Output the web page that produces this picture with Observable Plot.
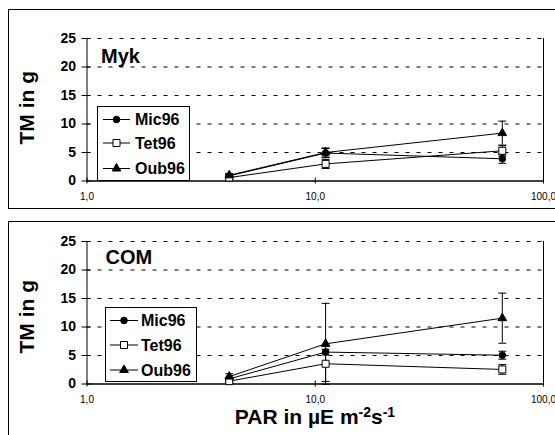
<!DOCTYPE html>
<html><head><meta charset="utf-8">
<script src="https://cdn.jsdelivr.net/npm/d3@7"></script>
<script src="https://cdn.jsdelivr.net/npm/@observablehq/plot@0.6"></script>
<style>
body{margin:0;background:#fff;font-family:"Liberation Sans",Arial,sans-serif;}
#wrap{position:relative;width:555px;height:435px;overflow:hidden;background:#fff;}
.frame{position:absolute;border:1px solid #000;box-sizing:border-box;}
.panel{position:absolute;left:0;}
.legend{position:absolute;}
.xtitle{position:absolute;left:115px;width:400px;text-align:center;font-weight:bold;font-size:21px;line-height:21px;color:#000;}
.xtitle sup{font-size:14px;line-height:0;vertical-align:7px;}
</style></head><body><div id="wrap"></div><script>
// ---- data ----
const par = [4.2, 11.1, 66];
const seriesNames = ["Mic96", "Tet96", "Oub96"];
const yTicks = [0, 5, 10, 15, 20, 25];
const gridValues = [5, 10, 15, 20, 25];
const xTicks = [1, 10, 100];
const panelNames = ["Myk", "COM"];
const yTitle = "TM in g";

const mykMic = [0.9, 4.9, 3.9];
const mykMicSd = [0.2, 0.8, 0.8];
const mykTet = [0.6, 3.0, 5.3];
const mykTetSd = [0.2, 0.8, 0.9];
const mykOub = [1.0, 5.0, 8.4];
const mykOubSd = [0.3, 0.8, 2.1];

const comMic = [0.9, 5.6, 5.05];
const comMicSd = [0.2, 0.5, 0.7];
const comTet = [0.5, 3.55, 2.55];
const comTetSd = [0.2, 3.1, 0.85];
const comOub = [1.3, 7.05, 11.55];
const comOubSd = [0.5, 7.1, 4.4];

function rows(vals, sds) {
  const out = [];
  seriesNames.forEach((s, i) => {
    par.forEach((x, j) => out.push({series: s, x, y: vals[i][j], lo: vals[i][j] - sds[i][j], hi: vals[i][j] + sds[i][j]}));
  });
  return out;
}
const mykData = rows([mykMic, mykTet, mykOub], [mykMicSd, mykTetSd, mykOubSd]);
const comData = rows([comMic, comTet, comOub], [comMicSd, comTetSd, comOubSd]);

const symStyle = {
  Mic96: {symbol: "circle", r: 3.3, fill: "black"},
  Tet96: {symbol: "square", r: 3.95, fill: "white"},
  Oub96: {symbol: "triangle", r: 3.2, fill: "black"}
};
const capSymbol = {draw(ctx, size) { const r = Math.sqrt(size / Math.PI); ctx.moveTo(-r, 0); ctx.lineTo(r, 0); }};
const FONT = '"Liberation Sans", Arial, sans-serif';

function panel(name, data, cfg) {
  const marks = [
    Plot.ruleY(gridValues, {stroke: "black", strokeWidth: 1, strokeDasharray: "4,7"}),
    Plot.ruleX([1], {stroke: "black", strokeWidth: 1}),
    Plot.ruleX([100], {stroke: "black", strokeWidth: 1}),
    Plot.ruleY([0], {stroke: "black", strokeWidth: 1.6}),
    Plot.axisY({ticks: yTicks, tickSize: 9, dx: 4, tickPadding: 6, fontSize: 14, fontWeight: "bold", label: null, stroke: "black", fill: "black"}),
    Plot.axisX({ticks: xTicks, tickSize: 6, dy: -3, tickPadding: 9, fontSize: 10, label: null, tickFormat: d => d.toFixed(1).replace(".", ","), stroke: "black", fill: "black"}),
    Plot.ruleX(data, {x: "x", y1: "lo", y2: "hi", stroke: "black", strokeWidth: 1}),
    Plot.dot(data, {x: "x", y: "lo", symbol: capSymbol, r: 4, stroke: "black", strokeWidth: 1, fill: "none"}),
    Plot.dot(data, {x: "x", y: "hi", symbol: capSymbol, r: 4, stroke: "black", strokeWidth: 1, fill: "none"}),
    Plot.line(data, {x: "x", y: "y", z: "series", stroke: "black", strokeWidth: 1})
  ];
  seriesNames.forEach(s => {
    const st = symStyle[s];
    marks.push(Plot.dot(data.filter(d => d.series === s), {x: "x", y: "y", symbol: st.symbol, r: st.r, fill: st.fill, stroke: "black", strokeWidth: 1}));
  });
  marks.push(Plot.text([name], {text: d => d, frameAnchor: "top-left", dx: cfg.nameDx, dy: cfg.nameDy, lineAnchor: "top", textAnchor: "start", fontSize: 20, fontWeight: "bold", fill: "black"}));
  marks.push(Plot.text([yTitle], {text: d => d, frameAnchor: "left", rotate: -90, dx: -53, dy: cfg.titleDy, lineAnchor: "bottom", textAnchor: "middle", fontSize: 21, fontWeight: "bold", fill: "black"}));
  return Plot.plot({
    width: 555, height: cfg.height,
    marginLeft: 86.5, marginRight: 12, marginTop: cfg.mt, marginBottom: cfg.mb,
    x: {type: "log", domain: [1, 100]},
    y: {domain: [0, 25]},
    style: {background: "transparent", overflow: "visible", fontFamily: FONT, color: "black"},
    marks
  });
}

function legend(cfg) {
  const w = cfg.w, h = cfg.h;
  const svg = d3.create("svg").attr("width", w).attr("height", h).style("display", "block").style("overflow", "visible");
  svg.append("rect").attr("x", 0.5).attr("y", 0.5).attr("width", w - 1).attr("height", h - 1).attr("fill", "white").attr("stroke", "black");
  seriesNames.forEach((s, i) => {
    const y = cfg.rowY[i];
    svg.append("line").attr("x1", cfg.lx1).attr("x2", cfg.lx2).attr("y1", y).attr("y2", y).attr("stroke", "black");
    const st = symStyle[s];
    const type = {circle: d3.symbolCircle, square: d3.symbolSquare, triangle: d3.symbolTriangle}[st.symbol];
    svg.append("path").attr("d", d3.symbol(type, Math.PI * st.r * st.r)()).attr("transform", `translate(${cfg.mx},${y})`).attr("fill", st.fill).attr("stroke", "black");
    svg.append("text").attr("x", cfg.tx).attr("y", y).attr("dy", "0.36em").attr("font-family", FONT).attr("font-weight", "bold").attr("font-size", 16).text(s);
  });
  const div = document.createElement("div");
  div.className = "legend";
  div.style.left = cfg.left + "px";
  div.style.top = cfg.top + "px";
  div.appendChild(svg.node());
  return div;
}

const wrap = document.getElementById("wrap");
function frame(left, top, w, h) {
  const f = document.createElement("div");
  f.className = "frame";
  Object.assign(f.style, {left: left + "px", top: top + "px", width: w + "px", height: h + "px"});
  wrap.appendChild(f);
}
frame(8, 9, 600, 200);
frame(8, 221, 600, 300);

const p1 = panel(panelNames[0], mykData, {height: 208, mt: 38, mb: 27.5, nameDx: 14, nameDy: 10, titleDy: -2});
const d1 = document.createElement("div"); d1.className = "panel"; d1.style.top = "0px"; d1.appendChild(p1); wrap.appendChild(d1);
const p2 = panel(panelNames[1], comData, {height: 214, mt: 20, mb: 51.5, nameDx: 18.5, nameDy: 8, titleDy: 4});
const d2 = document.createElement("div"); d2.className = "panel"; d2.style.top = "221px"; d2.appendChild(p2); wrap.appendChild(d2);

wrap.appendChild(legend({left: 97, top: 106, w: 93, h: 75, rowY: [13.5, 37, 62.5], lx1: 6, lx2: 33, mx: 19.5, tx: 38}));
wrap.appendChild(legend({left: 105, top: 307, w: 92, h: 75, rowY: [13.5, 38, 63], lx1: 5, lx2: 33, mx: 19, tx: 36}));

const xt = document.createElement("div");
xt.className = "xtitle";
xt.style.top = "406px";
xt.innerHTML = "PAR in µE m<sup>-2</sup>s<sup>-1</sup>";
wrap.appendChild(xt);
</script></body></html>
